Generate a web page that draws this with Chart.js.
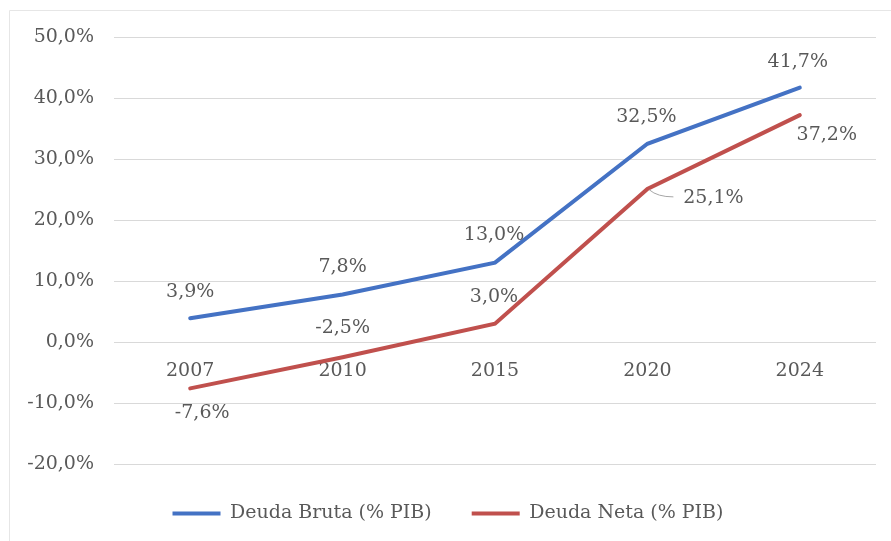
<!DOCTYPE html>
<html>
<head>
<meta charset="utf-8">
<script src="https://cdn.jsdelivr.net/npm/chart.js@4/dist/chart.umd.min.js"></script>
<style>
  html, body { margin: 0; padding: 0; background: #fff; }
</style>
</head>
<body>
<canvas id="myChart" width="891" height="541"></canvas>
<script>
// data
var years = ['2007', '2010', '2015', '2020', '2024'];
var deudaBruta = [3.9, 7.8, 13.0, 32.5, 41.7];
var deudaNeta = [-7.6, -2.5, 3.0, 25.1, 37.2];
var seriesNames = ['Deuda Bruta (% PIB)', 'Deuda Neta (% PIB)'];

var FONT = "'DejaVu Serif', serif";
var FSIZE = 19;
var GREY = '#595959';

function pct(v) {
    return v.toFixed(1).replace('.', ',') + '%';
}

// label offsets relative to each point (dx, dy), per dataset
var labelOffsets = [
    [[0, -26], [0, -27], [-1, -28], [-1, -27], [-2, -26]],
    [[12, 25], [0, -29], [-1, -27], [66, 9], [27, 20]]
];

var borderPlugin = {
    id: 'frame',
    beforeDraw: function (chart) {
        var c = chart.ctx;
        c.save();
        c.strokeStyle = '#e6e6e6';
        c.lineWidth = 1;
        c.beginPath();
        c.moveTo(9.5, 541);
        c.lineTo(9.5, 10.5);
        c.lineTo(891, 10.5);
        c.stroke();
        c.restore();
    }
};

var labelPlugin = {
    id: 'pointLabels',
    afterDatasetsDraw: function (chart) {
        var c = chart.ctx;
        c.save();
        c.font = FSIZE + 'px ' + FONT;
        c.fillStyle = GREY;
        c.textAlign = 'center';
        c.textBaseline = 'middle';
        chart.data.datasets.forEach(function (ds, di) {
            var meta = chart.getDatasetMeta(di);
            meta.data.forEach(function (pt, i) {
                var off = labelOffsets[di][i];
                var lx = pt.x + off[0], ly = pt.y + off[1];
                if (di === 1 && i === 3) {
                    // leader line for 25,1%
                    c.strokeStyle = '#a6a6a6';
                    c.lineWidth = 1;
                    c.beginPath();
                    c.moveTo(pt.x + 2, pt.y + 1);
                    c.quadraticCurveTo(pt.x + 10, pt.y + 8, pt.x + 26, pt.y + 8);
                    c.stroke();
                }
                c.fillText(pct(ds.data[i]), lx, ly);
            });
        });
        c.restore();
    }
};

var ctx = document.getElementById('myChart').getContext('2d');

var myChart = new Chart(ctx, {
    type: 'line',
    data: {
        labels: years,
        datasets: [{
            label: seriesNames[0],
            data: deudaBruta,
            borderColor: '#4472C4',
            backgroundColor: '#4472C4',
            borderWidth: 4,
            borderCapStyle: 'round',
            pointRadius: 0,
            tension: 0
        }, {
            label: seriesNames[1],
            data: deudaNeta,
            borderColor: '#C0504D',
            backgroundColor: '#C0504D',
            borderWidth: 4,
            borderCapStyle: 'round',
            pointRadius: 0,
            tension: 0
        }]
    },
    options: {
        responsive: false,
        animation: false,
        layout: { padding: { left: 20, right: 15, top: 37, bottom: 8 } },
        plugins: {
            tooltip: { enabled: false },
            legend: {
                position: 'bottom',
                labels: {
                    usePointStyle: true,
                    pointStyle: 'line',
                    pointStyleWidth: 48,
                    padding: 40,
                    color: GREY,
                    font: { family: FONT, size: FSIZE }
                }
            }
        },
        scales: {
            x: {
                position: { y: 0 },
                offset: true,
                grid: { display: false, drawTicks: false },
                border: { display: false },
                ticks: {
                    color: GREY,
                    padding: 18,
                    maxRotation: 0,
                    font: { family: FONT, size: FSIZE }
                }
            },
            y: {
                min: -20,
                max: 50,
                afterFit: function (scale) { scale.width = 94; },
                grid: { color: '#d9d9d9', lineWidth: 1, drawTicks: false },
                border: { display: false },
                ticks: {
                    stepSize: 10,
                    color: GREY,
                    padding: 20,
                    font: { family: FONT, size: FSIZE },
                    callback: function (v) { return pct(v); }
                }
            }
        }
    },
    plugins: [borderPlugin, labelPlugin]
});
</script>
</body>
</html>
